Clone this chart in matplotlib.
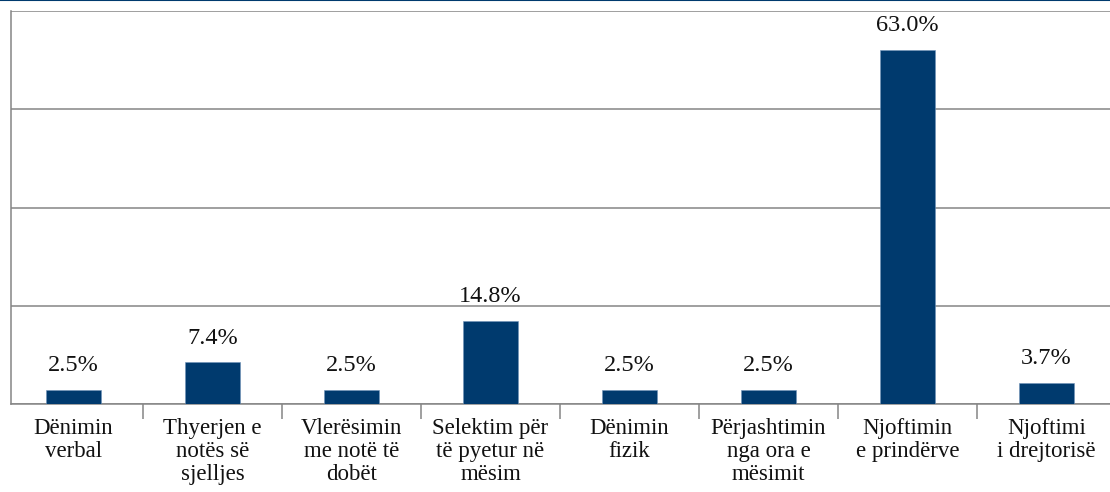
import matplotlib
matplotlib.use('Agg')
import matplotlib.pyplot as plt
import numpy as np

categories = ['Dënimin\nverbal', 'Thyerjen e\nnotës së\nsjelljes', 'Vlerësimin\nme notë të\ndobët',
              'Selektim për\ntë pyetur në\nmësim', 'Dënimin\nfizik', 'Përjashtimin\nnga ora e\nmësimit',
              'Njoftimin\ne prindërve', 'Njoftimi\ni drejtorisë']
values = [2.5, 7.4, 2.5, 14.8, 2.5, 2.5, 63.0, 3.7]
value_labels = ['2.5%', '7.4%', '2.5%', '14.8%', '2.5%', '2.5%', '63.0%', '3.7%']

plt.rcParams['font.family'] = ['Liberation Serif', 'DejaVu Serif']

fig = plt.figure(figsize=(11.1, 4.92), dpi=100)
# axes runs a little past the right edge, like the cropped original
ax = fig.add_axes([11 / 1110, (492 - 404) / 492, 1105 / 1110, 393 / 492])

x = np.arange(len(categories))
ax.bar(x, values, width=0.4, color='#003a6e', edgecolor='#6f93b8', linewidth=0.4, zorder=3)

for xi, v, lab in zip(x, values, value_labels):
    ax.annotate(lab, (xi, v), xytext=(0, 10), textcoords='offset points',
                ha='center', va='bottom', fontsize=17.5, color='#111111')

ax.set_xlim(-0.45, 7.5)
ax.set_ylim(0, 70)
ax.set_yticks(np.linspace(0, 70, 5))
ax.yaxis.grid(True, color='#858585', linewidth=1.1, zorder=0)
ax.tick_params(axis='y', length=0, labelleft=False)

ax.set_xticks(x)
ax.set_xticklabels(categories, fontsize=16.5, linespacing=1.12, color='#111111')
ax.set_xticks(np.arange(0.5, 7.6, 1), minor=True)
ax.tick_params(axis='x', which='major', length=0, pad=10)
ax.tick_params(axis='x', which='minor', length=11, width=1.1, color='#858585')

for side in ['top', 'right']:
    ax.spines[side].set_visible(False)
for side in ['left', 'bottom']:
    ax.spines[side].set_color('#858585')
    ax.spines[side].set_linewidth(1.1)

fig.add_artist(plt.Line2D([0, 1], [0.999, 0.999], color='#003a6e', linewidth=1.5, transform=fig.transFigure))

fig.savefig('out.png', dpi=100)
